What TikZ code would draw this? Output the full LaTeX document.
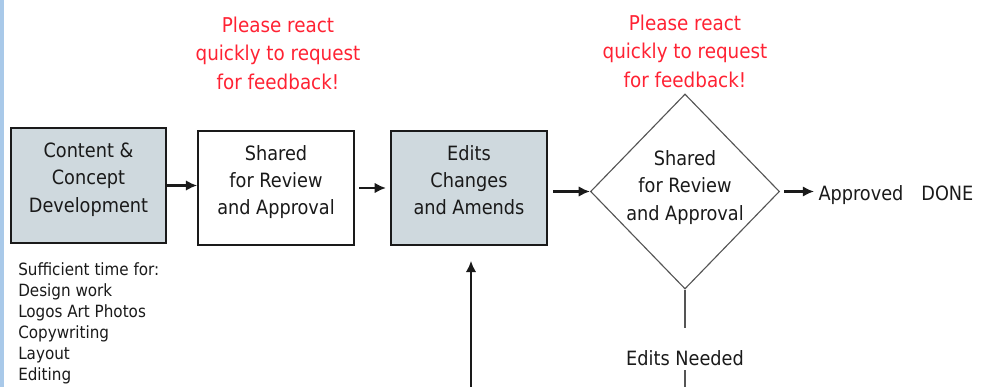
\documentclass[tikz,border=0pt]{standalone}
\usepackage{fontspec}
\setsansfont{DejaVu Sans Condensed}
\usepackage{tikz}
\usetikzlibrary{shapes.geometric,arrows.meta}
\definecolor{flowfg}{HTML}{1A1A1A}
\definecolor{flowgrey}{HTML}{CFD9DE}
\definecolor{flowred}{HTML}{FF2233}
\definecolor{flowedge}{HTML}{A9C9E9}
\definecolor{flowline}{HTML}{555555}

\begin{document}
\begin{tikzpicture}[x=1cm,y=1cm,>={Latex[length=8pt,width=7.5pt]},font=\sffamily\fontsize{14}{19.5}\selectfont]
  \tikzstyle{stage}=[draw=flowfg, very thick, fill=white, align=center, text=flowfg, minimum width=3.9cm, minimum height=2.85cm, inner sep=0pt, text depth=0.4cm]
  \tikzstyle{check}=[diamond, draw=flowline, thick, fill=white, align=center, text=flowfg, minimum width=4.725cm, minimum height=4.875cm, inner sep=-0.3cm, text depth=0.3cm]
  \tikzstyle{arrow}=[->, line width=1.5pt, draw=flowfg]
  \tikzstyle{plainline}=[thick, draw=flowline]
  \tikzstyle{plea}=[text=flowred, align=center, inner sep=0pt, font=\sffamily\fontsize{14.5}{20.3}\selectfont]
  \tikzstyle{note}=[text=flowfg, align=left, inner sep=0pt, font=\sffamily\fontsize{12}{15}\selectfont]
  \tikzstyle{result}=[text=flowfg, inner sep=3pt]

  \path[use as bounding box] (0,0) rectangle (24.65,9.675);
  \fill[flowedge] (0,0) rectangle (0.1,9.675);

  % main row
  \node[stage, fill=flowgrey, minimum width=3.875cm, minimum height=2.875cm] (concept) at (2.2125,5.0375) {Content \&\\Concept\\Development};
  \node[stage] (review) at (6.9,4.975) {Shared\\for Review\\and Approval};
  \node[stage, fill=flowgrey] (edits) at (11.725,4.975) {Edits\\Changes\\and Amends};
  \node[check] (approval) at (17.125,4.8875) {Shared\\for Review\\and Approval};
  \node[result, anchor=west] (done) at (20.35,4.8) {Approved\hspace{0.45cm}DONE};

  % requests
  \node[plea] (askone) at (6.95,8.35) {Please react\\quickly to request\\for feedback!};
  \node[plea] (asktwo) at (17.125,8.4) {Please react\\quickly to request\\for feedback!};

  % notes
  \node[note, anchor=north west] (time) at (0.45,3.12) {Sufficient time for:\\Design work\\Logos Art Photos\\Copywriting\\Layout\\Editing};

  % loop back
  \node[result] (needed) at (17.125,0.725) {Edits Needed};
  \coordinate (needtop) at (17.125,1.475);
  \coordinate (needbot) at (17.125,0);
  \coordinate (loopin) at (11.775,0);

  \draw[arrow] (concept.east) -- (concept.east -| review.west);
  \draw[arrow] ([xshift=3pt]review.east) -- ([xshift=-3pt]review.east -| edits.west);
  \draw[arrow] ([xshift=4pt]edits.east |- approval.west) -- (approval.west);
  \draw[arrow] ([xshift=3pt]approval.east) -- (approval.east -| done.west);
  \draw[plainline] (approval.south) -- (needtop);
  \draw[plainline] (needed.south) -- (needbot);
  \draw[arrow, shorten >=0.375cm] (loopin) -- (loopin |- edits.south);
\end{tikzpicture}
\end{document}
